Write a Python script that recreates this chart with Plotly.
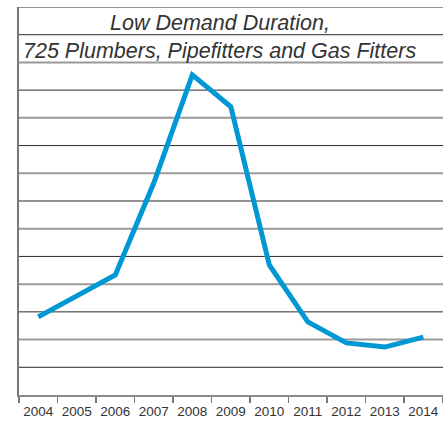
import plotly.graph_objects as go

years = ["2004", "2005", "2006", "2007", "2008", "2009", "2010", "2011", "2012", "2013", "2014"]
duration = [2.82, 3.57, 4.33, 7.65, 11.55, 10.4, 4.69, 2.64, 1.88, 1.73, 2.09]
grid_levels = list(range(1, 15))
title_lines = ["Low Demand Duration,", "725 Plumbers, Pipefitters and Gas Fitters"]

fig = go.Figure()
fig.add_trace(go.Scatter(
    x=years, y=duration, mode="lines",
    line=dict(color="#0098D4", width=5),
    hoverinfo="skip", showlegend=False,
))

shapes = []
for v in grid_levels:
    dark = (v % 2 == 1) or v == 14
    shapes.append(dict(
        type="line", xref="paper", yref="y", x0=0, x1=1, y0=v, y1=v,
        line=dict(color="#2a2a2a" if dark else "#9a9a9a", width=1 if dark else 2),
        layer="below",
    ))

annotations = []
for txt, yp in zip(title_lines, [0.958, 0.886]):
    annotations.append(dict(
        text=txt, xref="paper", yref="paper", x=0.474, y=yp,
        xanchor="center", yanchor="middle", showarrow=False,
        font=dict(family="Liberation Sans", size=21.5, color="#333333", style="italic"),
    ))

fig.update_layout(
    width=443, height=421,
    margin=dict(l=19, r=0, t=7, b=26),
    paper_bgcolor="white", plot_bgcolor="white",
    shapes=shapes, annotations=annotations,
    xaxis=dict(
        type="category", range=[-0.5, 10.51],
        tickson="boundaries", ticks="outside", ticklen=6, tickwidth=1.5, tickcolor="#777777",
        tickangle=0, ticklabelstandoff=3,
        showline=True, linecolor="#8a8a8a", linewidth=2,
        showgrid=False, zeroline=False,
        tickfont=dict(family="Liberation Sans", size=13.5, color="#333333"),
    ),
    yaxis=dict(
        range=[0, 14], showticklabels=False, ticks="",
        showgrid=False, zeroline=False,
        showline=True, linecolor="#777777", linewidth=2,
    ),
)

fig.write_html(
    "out.html",
    config={"displayModeBar": False, "staticPlot": True},
    post_script="document.body.style.margin='0';document.body.style.overflow='hidden';",
)
